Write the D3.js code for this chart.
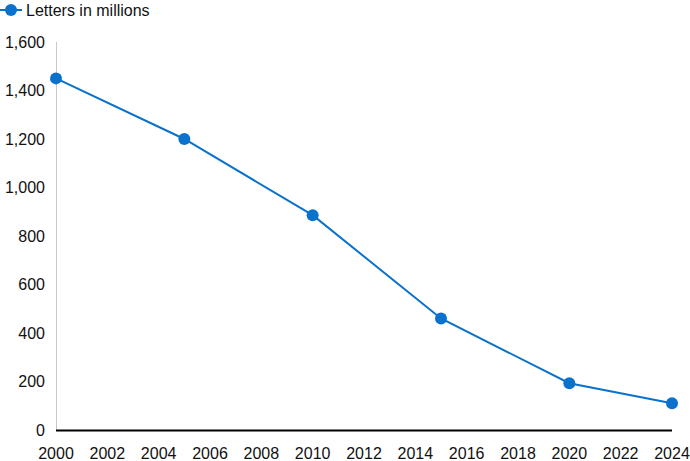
<!DOCTYPE html>
<html><head><meta charset="utf-8">
<script src="https://cdn.jsdelivr.net/npm/d3@7"></script>
<style>body{margin:0;background:#fff}svg{display:block}text{font-family:"Liberation Sans",Arial,sans-serif;}</style>
</head><body><svg id="c" width="690" height="461"></svg>
<script>
const years = [2000, 2005, 2010, 2015, 2020, 2024];
const letters = [1450, 1200, 886, 460, 193, 110];
const xTicks = [2000,2002,2004,2006,2008,2010,2012,2014,2016,2018,2020,2022,2024];
const yTicks = [0,200,400,600,800,1000,1200,1400,1600];
const seriesName = "Letters in millions";
const color = "#0a72cc";

const svg = d3.select("#c");
const x = d3.scaleLinear().domain([2000,2024]).range([56,672]);
const y = d3.scaleLinear().domain([0,1600]).range([430,42]);
const fmt = d3.format(",");

// y axis line
svg.append("line").attr("x1",56.5).attr("x2",56.5).attr("y1",y(1600)).attr("y2",y(0))
  .attr("stroke","#c8c8c8").attr("stroke-width",1);
// y labels
svg.append("g").selectAll("text").data(yTicks).join("text")
  .attr("x",45).attr("y",d=>y(d)).attr("dy","0.35em").attr("text-anchor","end")
  .attr("font-size",16).attr("fill","#111").text(d=>fmt(d));
// x labels
svg.append("g").selectAll("text").data(xTicks).join("text")
  .attr("x",d=>x(d)).attr("y",453).attr("dy","0.35em").attr("text-anchor","middle")
  .attr("font-size",16).attr("fill","#111").text(d=>d);
// zero line
svg.append("line").attr("x1",x(2000)).attr("x2",x(2024)).attr("y1",y(0)+0.5).attr("y2",y(0)+0.5)
  .attr("stroke","#000").attr("stroke-width",2);

const data = years.map((d,i)=>({x:d,y:letters[i]}));
svg.append("path").datum(data).attr("fill","none").attr("stroke",color).attr("stroke-width",2)
  .attr("d",d3.line().x(d=>x(d.x)).y(d=>y(d.y)));
svg.append("g").selectAll("circle").data(data).join("circle")
  .attr("cx",d=>x(d.x)).attr("cy",d=>y(d.y)).attr("r",6).attr("fill",color);

// legend
const lg = svg.append("g");
lg.append("line").attr("x1",0).attr("x2",22).attr("y1",10).attr("y2",10).attr("stroke",color).attr("stroke-width",2);
lg.append("circle").attr("cx",11).attr("cy",10).attr("r",6).attr("fill",color);
lg.append("text").attr("x",26).attr("y",10).attr("dy","0.35em").attr("font-size",16).attr("fill","#111").text(seriesName);
</script></body></html>
